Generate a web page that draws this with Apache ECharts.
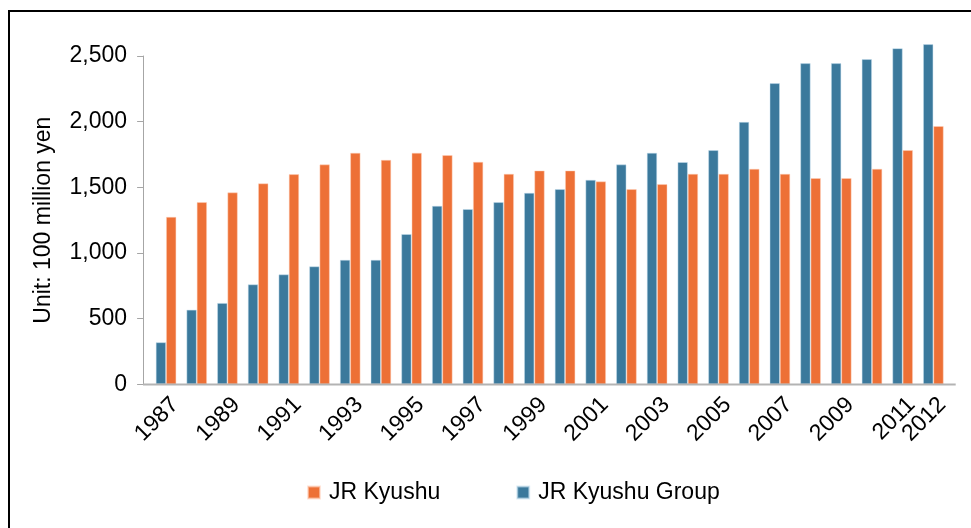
<!DOCTYPE html>
<html>
<head>
<meta charset="utf-8">
<style>html,body{margin:0;padding:0;background:#fff;}#c{width:971px;height:528px;}</style>
<script src="https://cdn.jsdelivr.net/npm/echarts@6/dist/echarts.min.js"></script>
</head>
<body>
<div id="c"></div>
<script>
const years = ['1987','1988','1989','1990','1991','1992','1993','1994','1995','1996','1997','1998','1999','2000','2001','2002','2003','2004','2005','2006','2007','2008','2009','2010','2011','2012'];
const jrKyushuGroup = [320,568,619,761,837,898,948,948,1144,1359,1334,1387,1458,1486,1557,1674,1763,1692,1783,1998,2293,2445,2445,2476,2559,2590];
const jrKyushu = [1275,1387,1461,1530,1600,1674,1763,1709,1763,1745,1694,1603,1628,1628,1545,1486,1524,1603,1603,1641,1603,1570,1570,1641,1783,1966];
const yTicks = [0,500,1000,1500,2000,2500];
const seriesNames = ['JR Kyushu','JR Kyushu Group'];

const FONT = '"Liberation Sans", Arial, sans-serif';
const FS = 23;
const chart = echarts.init(document.getElementById('c'), null, {renderer:'canvas'});
chart.setOption({
  backgroundColor:'#fff',
  animation:false,
  grid:[
    {left:150.7, right:22.3, top:56, bottom:143.7, containLabel:false},
    {left:159.7, right:13.3, top:56, bottom:143.7, containLabel:false}
  ],
  legend:{
    data:seriesNames,
    left:302, top:476,
    icon:'rect', itemWidth:12, itemHeight:12, itemGap:76,
    textStyle:{fontFamily:FONT, fontSize:FS, color:'#000', padding:[0,0,0,4]}
  },
  xAxis:[
    {type:'category', data:years, gridIndex:0,
     axisLine:{show:false}, axisTick:{show:false}, axisLabel:{show:false}},
    {type:'category', data:years, gridIndex:1,
     axisLine:{show:false}, axisTick:{show:false},
     axisLabel:{
       rotate:45, fontFamily:FONT, fontSize:FS, color:'#000', margin:17,
       hideOverlap:false, interval:0,
       formatter:function(v, i){ return (i%2===0 || i===years.length-1) ? v : ''; }
     }}
  ],
  yAxis:[
    {type:'value', gridIndex:0, min:yTicks[0], max:yTicks[yTicks.length-1], interval:500,
     offset:7.6,
     name:'Unit: 100 million yen', nameLocation:'middle', nameGap:88,
     nameTextStyle:{fontFamily:FONT, fontSize:FS, color:'#000'},
     axisLine:{show:true, lineStyle:{color:'#a6a6a6', width:1}},
     axisTick:{show:true, length:6, lineStyle:{color:'#a6a6a6'}},
     splitLine:{show:false},
     axisLabel:{fontFamily:FONT, fontSize:FS, color:'#000', margin:16,
       formatter:function(v){ return v.toLocaleString('en-US'); }}},
    {type:'value', gridIndex:1, min:0, max:2500, show:false}
  ],
  series:[
    {name:seriesNames[1], type:'bar', data:jrKyushuGroup, clip:false,
     xAxisIndex:0, yAxisIndex:0,
     barGap:'0%', barCategoryGap:'33%',
     itemStyle:{color:'#3b799c', borderColor:'rgba(200,225,240,0.6)', borderWidth:0.8}},
    {name:seriesNames[0], type:'bar', data:jrKyushu, clip:false,
     xAxisIndex:0, yAxisIndex:0,
     barGap:'0%', barCategoryGap:'33%',
     itemStyle:{color:'#ed7036', borderColor:'rgba(255,210,190,0.6)', borderWidth:0.8}}
  ],
  graphic:[
    {type:'line', shape:{x1:143, y1:384.5, x2:955.7, y2:384.5}, style:{stroke:'#b3b3b3', lineWidth:2}, z:10},
    {type:'rect', shape:{x:9, y:11, width:1100, height:700}, style:{fill:null, stroke:'#000', lineWidth:2}, z:0, silent:true}
  ]
});
</script>
</body>
</html>
